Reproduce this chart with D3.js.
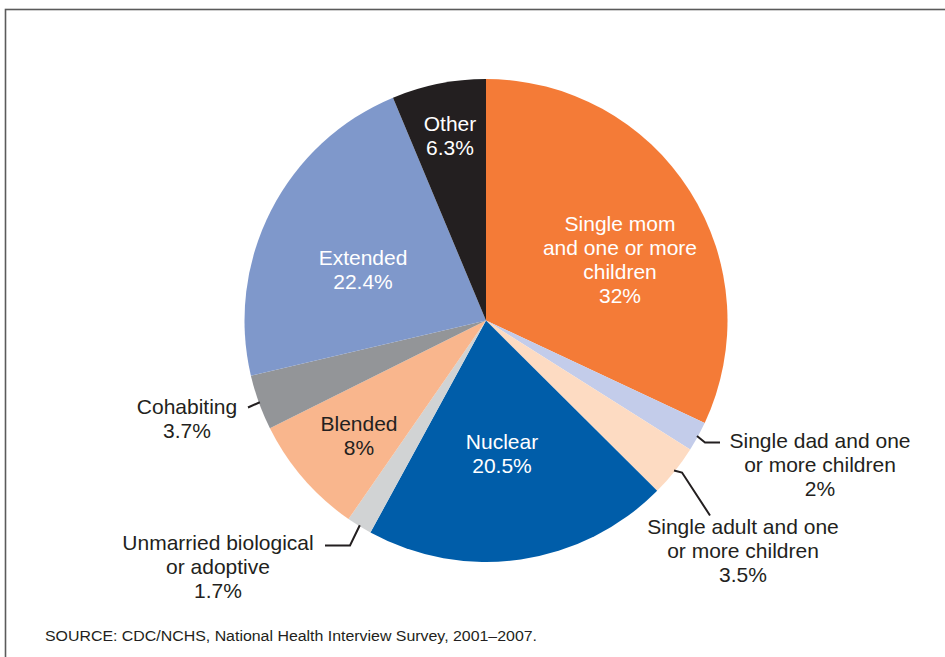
<!DOCTYPE html>
<html>
<head>
<meta charset="utf-8">
<script src="https://cdn.jsdelivr.net/npm/d3@7/dist/d3.min.js"></script>
<style>
  html, body { margin: 0; padding: 0; background: #fff; }
  svg { display: block; }
  text { font-family: "Liberation Sans", Arial, Helvetica, sans-serif; }
</style>
</head>
<body>
<svg id="chart" width="945" height="657"></svg>
<script>
// ---- Data ----
const categories = [
  "Single mom and one or more children",
  "Single dad and one or more children",
  "Single adult and one or more children",
  "Nuclear",
  "Unmarried biological or adoptive",
  "Blended",
  "Cohabiting",
  "Extended",
  "Other"
];
const values = [32, 2, 3.5, 20.5, 1.7, 8, 3.7, 22.4, 6.3];
const valueLabels = ["32%", "2%", "3.5%", "20.5%", "1.7%", "8%", "3.7%", "22.4%", "6.3%"];
const labelLines = [
  ["Single mom", "and one or more", "children"],
  ["Single dad and one", "or more children"],
  ["Single adult and one", "or more children"],
  ["Nuclear"],
  ["Unmarried biological", "or adoptive"],
  ["Blended"],
  ["Cohabiting"],
  ["Extended"],
  ["Other"]
];
const sourceText = "SOURCE: CDC/NCHS, National Health Interview Survey, 2001\u20132007.";

// ---- Styles / layout ----
const colors = ["#F47B37", "#C3CCEA", "#FDDBC2", "#005DA9", "#D1D3D4", "#F9B68D", "#939598", "#7F98CB", "#231F20"];
const textColors = ["#fff", "#231F20", "#231F20", "#fff", "#231F20", "#231F20", "#231F20", "#fff", "#fff"];
// label block centre, offset from pie centre
const labelOffsets = [[134, -60], [334, 145], [257, 231], [16, 134.5], [-268, 247.5], [-127, 116.5], [-299, 99.5], [-123, -49.5], [-36, -183.5]];
// leader-line extra points (offsets from pie centre), null = no leader
const leaders = [null, [[219, 122], [234, 122]], [[196, 152], [224, 195]], null, [[-136, 225], [-161, 225]], null, [[-238, 87]], null, null];

const cx = 486, cy = 320.5, R = 241.5;
const fontSize = 21, lineH = 24;

const svg = d3.select("#chart");

// frame
svg.append("rect")
  .attr("x", 5.5).attr("y", 9.5)
  .attr("width", 960).attr("height", 700)
  .attr("fill", "none")
  .attr("stroke", "#5b5b5b")
  .attr("stroke-width", 1.6);

const g = svg.append("g").attr("transform", `translate(${cx},${cy})`);

const pie = d3.pie().sort(null).value(d => d)(values);
const arc = d3.arc().innerRadius(0).outerRadius(R);

g.selectAll("path.slice")
  .data(pie)
  .join("path")
  .attr("class", "slice")
  .attr("d", arc)
  .attr("fill", (d, i) => colors[i]);

// leader lines
pie.forEach((d, i) => {
  if (!leaders[i]) return;
  const a = (d.startAngle + d.endAngle) / 2;
  const start = [Math.sin(a) * (R - 1), -Math.cos(a) * (R - 1)];
  const pts = [start].concat(leaders[i]);
  g.append("path")
    .attr("d", d3.line()(pts))
    .attr("fill", "none")
    .attr("stroke", "#231F20")
    .attr("stroke-width", 2);
});

// labels
pie.forEach((d, i) => {
  const lines = labelLines[i].concat([valueLabels[i]]);
  const [ox, oy] = labelOffsets[i];
  const n = lines.length;
  const t = g.append("text")
    .attr("text-anchor", "middle")
    .attr("font-size", fontSize)
    .attr("fill", textColors[i]);
  lines.forEach((ln, k) => {
    t.append("tspan")
      .attr("x", ox)
      .attr("y", oy + (k - (n - 1) / 2) * lineH)
      .attr("dy", "0.3em")
      .text(ln);
  });
});

// source
svg.append("text")
  .attr("x", 45).attr("y", 641)
  .attr("font-size", 15.5)
  .attr("fill", "#231F20")
  .attr("textLength", 492)
  .attr("lengthAdjust", "spacingAndGlyphs")
  .text(sourceText);
</script>
</body>
</html>
